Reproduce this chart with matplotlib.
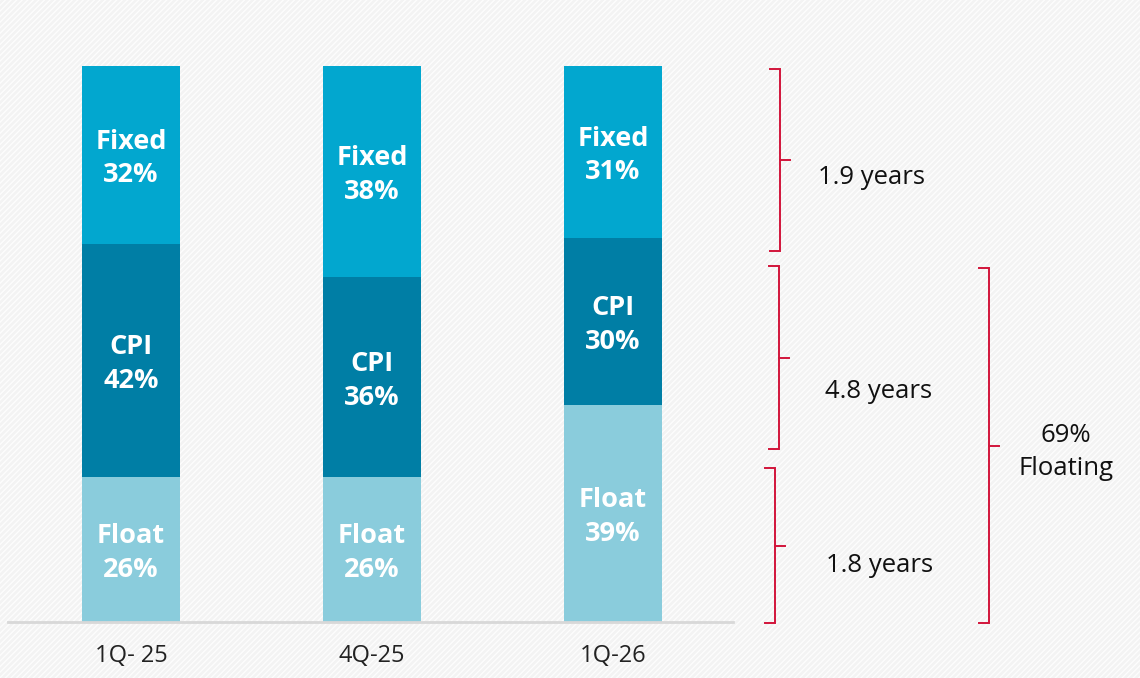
import matplotlib
matplotlib.use("Agg")
import matplotlib.pyplot as plt
from matplotlib.patches import Rectangle
from matplotlib import font_manager

categories = ["1Q- 25", "4Q-25", "1Q-26"]
float_pct = [26, 26, 39]
cpi_pct = [42, 36, 30]
fixed_pct = [32, 38, 31]
segment_names = ["Float", "CPI", "Fixed"]
bracket_labels = ["1.9 years", "4.8 years", "1.8 years", "69%\nFloating"]

colors = {"Float": "#8accdc", "CPI": "#007ea5", "Fixed": "#02a7cf"}
red = "#d2143a"

avail = {f.name for f in font_manager.fontManager.ttflist}
main_font = "Open Sans" if "Open Sans" in avail else "DejaVu Sans"
narrow_font = "Liberation Sans Narrow" if "Liberation Sans Narrow" in avail else main_font

W, H = 1140, 678
fig = plt.figure(figsize=(W / 100, H / 100), dpi=100)
fig.patch.set_facecolor("#f3f3f3")
plt.rcParams["hatch.linewidth"] = 1.0
bg = Rectangle((0, 0), 1, 1, transform=fig.transFigure, facecolor="#f3f3f3",
               edgecolor="#fdfdfd", hatch="//////", linewidth=0, zorder=-10)
fig.patches.append(bg)

# main axes
left_px, right_px, base_px, top_px = 8, 733, 622, 66
ax = fig.add_axes([left_px / W, (H - base_px) / H, (right_px - left_px) / W,
                   (base_px - top_px) / H])
ax.set_facecolor("none")
spacing = 241
x = list(range(len(categories)))
ax.set_xlim((left_px - 131) / spacing, (right_px - 131) / spacing)
ax.set_ylim(0, 100)
bw = 98 / spacing

bottoms = [0, 0, 0]
for name, vals in zip(segment_names, [float_pct, cpi_pct, fixed_pct]):
    ax.bar(x, vals, bw, bottom=bottoms, color=colors[name], edgecolor="none", zorder=2)
    for xi, v, b in zip(x, vals, bottoms):
        ax.annotate(f"{name}\n{v}%", (xi, b + v / 2), xytext=(0, -2.5),
                    textcoords="offset points", ha="center", va="center",
                    color="white", fontsize=19.5, fontweight="bold", family=main_font,
                    linespacing=1.38, zorder=3)
    bottoms = [b + v for b, v in zip(bottoms, vals)]

for s in ["top", "right", "left"]:
    ax.spines[s].set_visible(False)
ax.spines["bottom"].set_color("#d8d8d8")
ax.spines["bottom"].set_linewidth(2)
ax.set_yticks([])
ax.set_xticks(x)
ax.set_xticklabels(categories, fontsize=17, family=narrow_font, color="#222222")
ax.tick_params(axis="x", length=0, pad=16)

# overlay axes in pixel coordinates for brackets
ov = fig.add_axes([0, 0, 1, 1])
ov.set_xlim(0, W)
ov.set_ylim(H, 0)
ov.axis("off")
ov.patch.set_alpha(0)

def bracket(xv, y0, y1, hook=10, tick=10):
    ym = (y0 + y1) / 2
    ov.plot([xv - hook, xv, xv, xv - hook], [y0, y0, y1, y1], color=red, lw=1.4,
            solid_joinstyle="miter")
    ov.plot([xv, xv + tick], [ym, ym], color=red, lw=1.4)

bracket(780, 69, 251)
bracket(779, 266, 449)
bracket(775, 468, 623)
bracket(989, 268, 623)

txt_kw = dict(fontsize=18.5, family=main_font, color="#111111", va="center")
ov.text(818, 177, bracket_labels[0], ha="left", **txt_kw)
ov.text(825, 392, bracket_labels[1], ha="left", **txt_kw)
ov.text(826, 566, bracket_labels[2], ha="left", **txt_kw)
ov.text(1066, 452, bracket_labels[3], ha="center", linespacing=1.45, **txt_kw)

fig.savefig("out.png", dpi=100, facecolor=fig.get_facecolor())
